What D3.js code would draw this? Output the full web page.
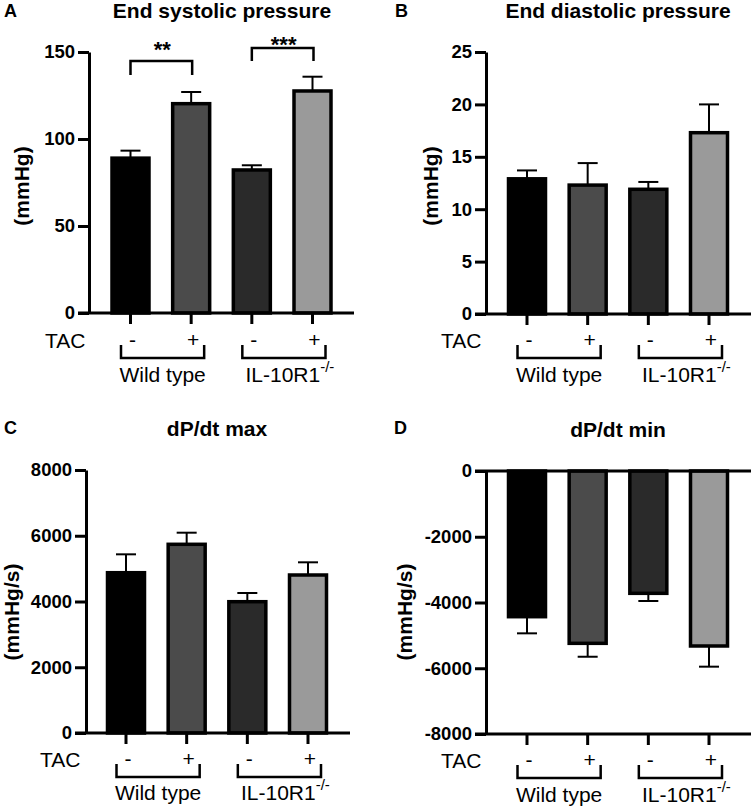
<!DOCTYPE html>
<html><head><meta charset="utf-8">
<script src="https://cdn.jsdelivr.net/npm/d3@7"></script>
<style>
html,body{margin:0;padding:0;background:#fff;}
svg text{font-family:"Liberation Sans",Arial,sans-serif;fill:#000;}
</style></head>
<body>
<svg id="chart" width="752" height="808"></svg>
<script>
// ---- data ----
const categories = ["WT-", "WT+", "KO-", "KO+"];
const tacLabels = ["-", "+", "-", "+"];
const groupLabels = ["Wild type", "IL-10R1"];
const groupSup = ["", "-/-"];

const espValues = [89.0, 120.3, 82.2, 127.6];
const espErrors = [4.3, 6.7, 2.7, 8.2];
const espTicks = [0, 50, 100, 150];

const edpValues = [12.9, 12.3, 11.9, 17.3];
const edpErrors = [0.8, 2.1, 0.7, 2.7];
const edpTicks = [0, 5, 10, 15, 20, 25];

const dpMaxValues = [4876, 5740, 3994, 4806];
const dpMaxErrors = [559, 353, 265, 386];
const dpMaxTicks = [0, 2000, 4000, 6000, 8000];

const dpMinValues = [-4432, -5242, -3721, -5323];
const dpMinErrors = [506, 408, 233, 629];
const dpMinTicks = [0, -2000, -4000, -6000, -8000];

const espSignif = [
  {from: 0, to: 1, label: "**", level: 144.8, drop: 8},
  {from: 2, to: 3, label: "***", level: 152.3, drop: 7.5}
];

const barColors = ["#000000", "#4b4b4b", "#2a2a2a", "#9a9a9a"];

const svg = d3.select("#chart");
const FONT = '"Liberation Sans",Arial,sans-serif';

function panel(cfg) {
  const g = svg.append("g");
  const y = d3.scaleLinear().domain(cfg.domain).range(cfg.yRange);
  const x = d3.scalePoint().domain(categories).range(cfg.xRange);

  g.append("text").attr("x", cfg.letterX).attr("y", cfg.letterY)
    .attr("font-size", 18).attr("font-weight", "bold").text(cfg.letter);
  g.append("text").attr("x", cfg.titleX).attr("y", cfg.titleY)
    .attr("text-anchor", "middle").attr("font-size", 21).attr("font-weight", "bold").text(cfg.title);

  g.append("text")
    .attr("transform", `translate(${cfg.ylabX},${cfg.ylabY}) rotate(-90)`)
    .attr("text-anchor", "middle").attr("font-size", 21).attr("font-weight", "bold").text(cfg.ylabel);

  const vals = cfg.values, errs = cfg.errors;
  const idx = d3.range(vals.length);

  const eb = g.append("g").attr("stroke", "#000").attr("stroke-width", 2);
  idx.forEach(i => {
    const cx = x(categories[i]);
    const v = vals[i];
    const e = v >= 0 ? v + errs[i] : v - errs[i];
    eb.append("line").attr("x1", cx).attr("x2", cx).attr("y1", y(v)).attr("y2", y(e));
    eb.append("line").attr("x1", cx - 10).attr("x2", cx + 10).attr("y1", y(e)).attr("y2", y(e));
  });

  g.append("g").selectAll("rect").data(idx).join("rect")
    .attr("x", i => x(categories[i]) - 18.5)
    .attr("width", 37)
    .attr("y", i => Math.min(y(vals[i]), y(0)))
    .attr("height", i => Math.abs(y(vals[i]) - y(0)))
    .attr("fill", i => barColors[i])
    .attr("stroke", "#000").attr("stroke-width", 3.5);

  const ax = g.append("g").attr("transform", `translate(${cfg.axisX},0)`)
    .call(d3.axisLeft(y).tickValues(cfg.ticks).tickFormat(d => String(d))
      .tickSize(11).tickPadding(3).tickSizeOuter(0));
  ax.select(".domain").attr("stroke-width", 3).attr("stroke", "#000");
  ax.selectAll(".tick line").attr("stroke-width", 3).attr("stroke", "#000");
  ax.selectAll(".tick text").attr("font-size", 18.5).attr("font-weight", "bold")
    .attr("font-family", FONT).attr("fill", "#000");

  const baseY = y(cfg.domain[0]);
  cfg.hLines.forEach(v => {
    g.append("line").attr("x1", cfg.axisX - 11).attr("x2", cfg.axisXEnd)
      .attr("y1", y(v)).attr("y2", y(v)).attr("stroke", "#000").attr("stroke-width", 3);
  });

  idx.forEach(i => {
    const cx = x(categories[i]);
    g.append("line").attr("x1", cx).attr("x2", cx).attr("y1", baseY).attr("y2", baseY + 11)
      .attr("stroke", "#000").attr("stroke-width", 3);
    g.append("text").attr("x", cx + 2).attr("y", cfg.tacY - 1).attr("text-anchor", "middle")
      .attr("font-size", 21).text(tacLabels[i]);
  });

  g.append("text").attr("x", cfg.tacX).attr("y", cfg.tacY).attr("font-size", 21).text("TAC");

  [0, 1].forEach(k => {
    const x1 = x(categories[2 * k]) - 9.5, x2 = x(categories[2 * k + 1]) + 13;
    const top = cfg.tacY - 3, bot = cfg.tacY + 10;
    g.append("path").attr("d", `M${x1},${top}V${bot}H${x2}V${top}`)
      .attr("fill", "none").attr("stroke", "#000").attr("stroke-width", 2.5);
    const t = g.append("text").attr("x", (x1 + x2) / 2 + (k ? 6 : 0)).attr("y", cfg.groupY)
      .attr("text-anchor", "middle").attr("font-size", 21);
    t.append("tspan").text(groupLabels[k]);
    if (groupSup[k]) t.append("tspan").attr("dy", -10).attr("font-size", 15).text(groupSup[k]);
  });

  (cfg.signif || []).forEach(s => {
    const xa = x(categories[s.from]), xb = x(categories[s.to]) + 1;
    const yl = y(s.level), yd = y(s.level - s.drop);
    g.append("path").attr("d", `M${xa},${yd}V${yl}H${xb}V${yd}`)
      .attr("fill", "none").attr("stroke", "#000").attr("stroke-width", 2.5);
    g.append("text").attr("x", (xa + xb) / 2 + 1).attr("y", yl + (s.label.length === 2 ? -4.5 : 4.5))
      .attr("text-anchor", "middle").attr("font-size", 22).attr("font-weight", "bold").text(s.label);
  });
}

panel({
  letter: "A", letterX: 4, letterY: 17, title: "End systolic pressure", titleX: 222, titleY: 18,
  ylabel: "(mmHg)", ylabX: 29, ylabY: 186,
  values: espValues, errors: espErrors, ticks: espTicks,
  domain: [0, 150], yRange: [313, 52], xRange: [130.5, 312.5],
  axisX: 89, axisXEnd: 354, hLines: [0],
  tacX: 45, tacY: 348, groupY: 382, signif: espSignif
});

panel({
  letter: "B", letterX: 395, letterY: 17, title: "End diastolic pressure", titleX: 618, titleY: 18,
  ylabel: "(mmHg)", ylabX: 438, ylabY: 186,
  values: edpValues, errors: edpErrors, ticks: edpTicks,
  domain: [0, 25], yRange: [314, 52], xRange: [527, 709],
  axisX: 486, axisXEnd: 751, hLines: [0],
  tacX: 441, tacY: 348, groupY: 382
});

panel({
  letter: "C", letterX: 4, letterY: 434, title: "dP/dt max", titleX: 217, titleY: 436,
  ylabel: "(mmHg/s)", ylabX: 19, ylabY: 612,
  values: dpMaxValues, errors: dpMaxErrors, ticks: dpMaxTicks,
  domain: [0, 8000], yRange: [733, 470], xRange: [126, 308],
  axisX: 86, axisXEnd: 350, hLines: [0],
  tacX: 40, tacY: 767, groupY: 800
});

panel({
  letter: "D", letterX: 394, letterY: 434, title: "dP/dt min", titleX: 618, titleY: 437,
  ylabel: "(mmHg/s)", ylabX: 412, ylabY: 612,
  values: dpMinValues, errors: dpMinErrors, ticks: dpMinTicks,
  domain: [-8000, 0], yRange: [734, 471], xRange: [527, 709],
  axisX: 486, axisXEnd: 751, hLines: [0, -8000],
  tacX: 441, tacY: 768, groupY: 802
});
</script>
</body></html>
